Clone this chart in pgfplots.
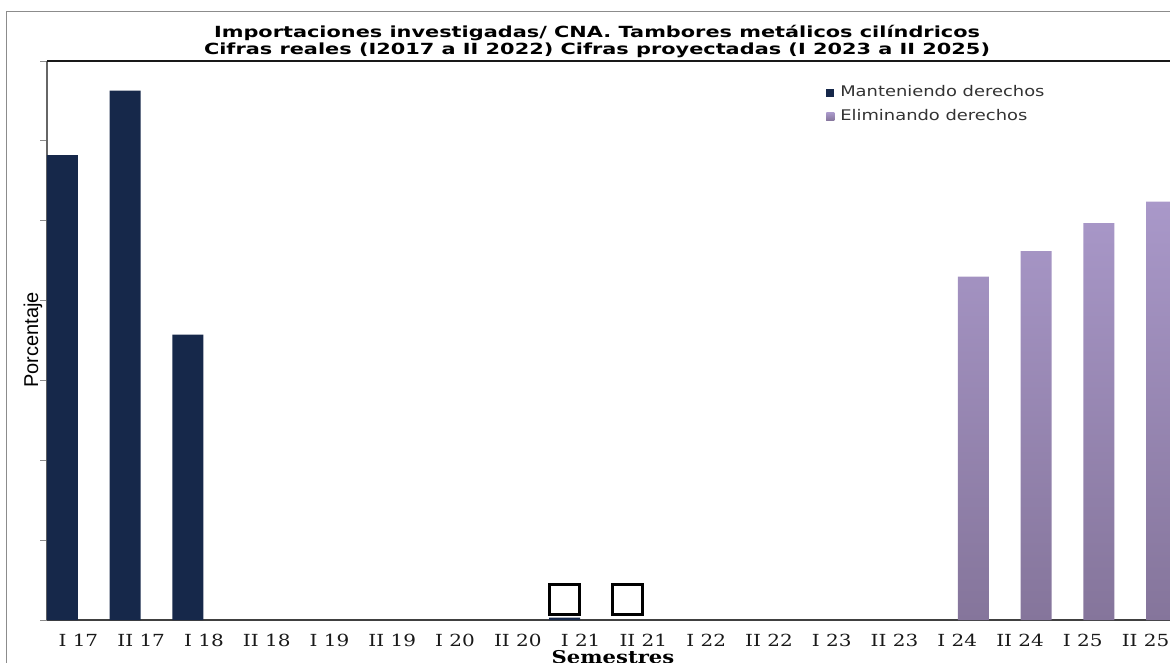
\documentclass[border=0pt]{standalone}
\usepackage{fontspec}
\setmainfont{DejaVu Sans}
\newfontfamily\titlefont{DejaVu Sans}[FakeStretch=1.36]
\newfontfamily\legfont{DejaVu Sans}[FakeStretch=1.22]
\newfontfamily\tickfont{DejaVu Serif}[FakeStretch=1.2]
\newfontfamily\labelfont{Liberation Sans}
\usepackage{pgfplots}
\pgfplotsset{compat=1.18}
\definecolor{navy}{HTML}{16284A}
\definecolor{purtop}{HTML}{A998C9}
\definecolor{purbot}{HTML}{85759B}
\definecolor{legpur}{HTML}{9C8CB8}
\begin{document}
\begin{tikzpicture}
\begin{axis}[
  scale only axis, width=847.5pt, height=419.25pt,
  xmin=-0.5, xmax=17.5, ymin=0, ymax=7,
  axis x line*=bottom, axis y line*=left,
  x axis line style={draw=black!75, line width=1.1pt},
  y axis line style={draw=black!60, line width=0.8pt},
  xtick={0,...,17},
  xticklabels={I 17, II 17, I 18, II 18, I 19, II 19, I 20, II 20, I 21, II 21, I 22, II 22, I 23, II 23, I 24, II 24, I 25, II 25},
  x tick style={draw=none},
  ytick={0,...,7}, yticklabels={},
  y tick style={draw=black!45, line width=0.75pt},
  tick align=outside, major tick length=5.25pt,
  xticklabel style={font=\tickfont\fontsize{12.5}{14}\selectfont, text=black!90, inner sep=0pt, anchor=north, yshift=-5.5pt},
  clip=false,
  legend style={at={(rel axis cs:0.6894,0.958)}, anchor=north west, draw=none, fill=none,
    font=\legfont\fontsize{11}{13}\selectfont, text=black!80, row sep=6pt, inner sep=0pt,
    nodes={inner sep=1pt, text height=8pt, text depth=2pt}},
  legend cell align=left,
]
\addplot[ybar, bar width=23.25pt, bar shift=-12pt, fill=navy, draw=none,
  legend image code/.code={\fill[navy] (0pt,-3pt) rectangle (6pt,3pt); \path (9.5pt,0pt);}]
  coordinates {(0,5.82) (1,6.63) (2,3.575) (8,0.03)};
\addlegendentry{Manteniendo derechos}
\addplot[ybar, bar width=23.25pt, bar shift=12pt, top color=purtop, bottom color=purbot, draw=none,
  legend image code/.code={\fill[legpur] (0pt,-3pt) rectangle (6pt,3pt); \path (9.5pt,0pt);}]
  coordinates {(14,4.30) (15,4.62) (16,4.97) (17,5.24)};
\addlegendentry{Eliminando derechos}
\addplot[only marks, mark=square, mark size=11.25pt, forget plot,
  mark options={line width=2.25pt, draw=black, rounded corners=1pt}]
  coordinates {(7.745,0.257) (8.745,0.257)};
\draw[black!90, line width=1.5pt] (rel axis cs:0,1) -- (rel axis cs:1,1);
\end{axis}
\draw[black!45, line width=0.75pt] (-30.4pt,-40pt) -- (-30.4pt,456.4pt) -- (900pt,456.4pt);
\node[align=center, font=\titlefont\bfseries\fontsize{11.5}{13}\selectfont] at (412.5pt,433.9pt)
  {Importaciones investigadas/ CNA. Tambores metálicos cilíndricos\\ Cifras reales (I2017 a II 2022) Cifras proyectadas (I 2023 a II 2025)};
\node[rotate=90, font=\labelfont\fontsize{15}{17}\selectfont] at (-10.5pt,210pt) {Porcentaje};
\node[anchor=north, inner sep=0pt, font=\tickfont\bfseries\fontsize{13.2}{15}\selectfont] at (424.5pt,-22.5pt) {Semestres};
\pgfresetboundingbox
\path[use as bounding box] (-35.25pt,-31.5pt) rectangle (842.25pt,465pt);
\end{tikzpicture}
\end{document}
